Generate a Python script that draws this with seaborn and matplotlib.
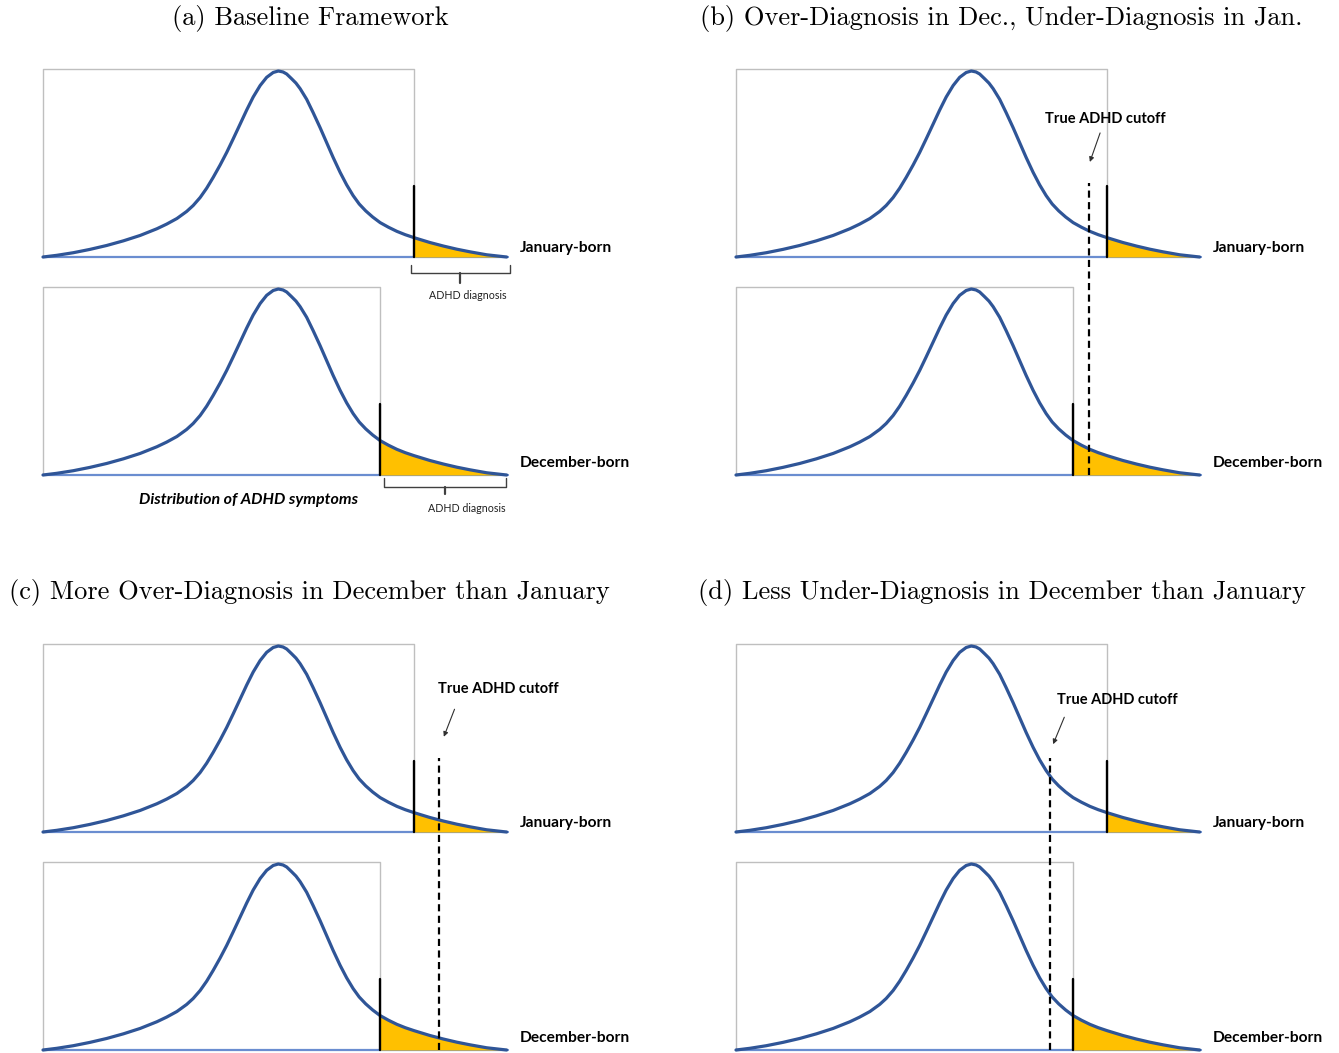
import numpy as np
import pandas as pd
import matplotlib
matplotlib.use("Agg")
import matplotlib.pyplot as plt
import seaborn as sns

# ---- data -------------------------------------------------------------
# Symptom score (0-100) and relative density of the symptom distribution
curve_x = [0.0, 2.95, 6.5, 10.1, 13.7, 17.3, 20.9, 24.5, 26.6, 28.8, 30.9,
           32.3, 33.8, 35.2, 36.6, 38.1, 39.5, 40.9, 42.4, 43.8, 45.2, 46.7,
           48.1, 49.5, 50.6, 51.6, 52.4, 53.4, 54.4, 55.3, 56.7, 58.1, 59.6,
           61.0, 62.4, 63.9, 65.3, 66.7, 68.0, 69.4, 70.9, 72.5, 74.3, 76.1,
           77.9, 79.8, 83.2, 86.1, 89.0, 91.8, 95.4, 99.7]
curve_h = [0.0, 0.009, 0.023, 0.041, 0.062, 0.087, 0.116, 0.152, 0.177, 0.207,
           0.245, 0.277, 0.320, 0.370, 0.428, 0.495, 0.562, 0.635, 0.715, 0.790,
           0.860, 0.922, 0.966, 0.992, 1.0, 0.995, 0.984, 0.960, 0.935, 0.905,
           0.848, 0.776, 0.695, 0.615, 0.535, 0.455, 0.388, 0.330, 0.285,
           0.248, 0.215, 0.185, 0.160, 0.138, 0.120, 0.104, 0.078, 0.059,
           0.042, 0.028, 0.012, 0.0]

panel_titles = ["(a) Baseline Framework",
                "(b) Over-Diagnosis in Dec., Under-Diagnosis in Jan.",
                "(c) More Over-Diagnosis in December than January",
                "(d) Less Under-Diagnosis in December than January"]
jan_cutoff = [79.8, 79.8, 79.8, 79.8]      # diagnostic threshold, January-born
dec_cutoff = [72.5, 72.5, 72.5, 72.5]      # diagnostic threshold, December-born
true_cutoff = [None, 75.9, 85.2, 67.5]     # true ADHD threshold
group_labels = ["January-born", "December-born"]

# ---- style --------------------------------------------------------------
sns.set_theme(style="white")
plt.rcParams["font.family"] = ["Lato", "DejaVu Sans"]
plt.rcParams["text.color"] = "black"

CURVE = "#2F5597"
BASE = "#6A8DD0"
FILL = "#FFC000"
BOX = "#BFBFBF"
TITLE_FONT = "cmr10"

W, H = 1339, 1053
fig = plt.figure(figsize=(W / 100, H / 100), dpi=100)

PX, PY = 4.65, 186.0          # pixels per x unit / per y unit
OFF = 1.172                   # vertical offset of the upper distribution
BOX_TOP = 1.011               # frame top above each baseline
CUT_H = 0.38                  # height of the diagnostic threshold marker
XL, YL = (-6, 128), (-0.35, 2.3)

origins = [(43, 475), (736, 475), (43, 1050), (736, 1050)]
title_pos = [(310, 18), (1001, 18), (309, 593), (1002, 593)]
cut_text = [None, (79.4, 1.914), (97.9, 1.939), (82.1, 1.882)]
cut_arrow = [None, ((78.3, 1.839), (76.1, 1.683)),
             ((88.5, 1.832), (86.2, 1.684)), ((70.6, 1.789), (68.2, 1.644))]

df = pd.DataFrame({"x": curve_x, "h": curve_h})


def draw_dist(ax, base, cut):
    # chart frame, baseline, shaded tail, density curve, threshold marker
    ax.plot([0, 0, cut, cut], [base, base + BOX_TOP, base + BOX_TOP, base],
            color=BOX, lw=1.0, zorder=1)
    ax.plot([0, 100], [base, base], color=BASE, lw=1.6, zorder=2)
    tail = df[df["x"] >= cut]
    ax.fill_between(tail["x"], base, tail["h"] + base, color=FILL,
                    lw=0, zorder=3)
    sns.lineplot(x=df["x"], y=df["h"] + base, ax=ax, color=CURVE, lw=2.3,
                 sort=False, estimator=None, zorder=4,
                 solid_joinstyle="round")
    ax.plot([cut, cut], [base, base + CUT_H], color="black", lw=1.7, zorder=5)


def bracket(ax, x0, x1, ytop, ybar, ybot):
    xm = (x0 + x1) / 2
    ax.plot([x0, x0, x1, x1], [ytop, ybar, ybar, ytop], color="#404040",
            lw=1.0, solid_joinstyle="round")
    ax.plot([xm, xm], [ybar, ybot], color="#404040", lw=1.6)


for i in range(4):
    ox, oy = origins[i]
    left = (ox + XL[0] * PX) / W
    width = (XL[1] - XL[0]) * PX / W
    bottom = 1 - (oy - YL[0] * PY) / H
    height = (YL[1] - YL[0]) * PY / H
    ax = fig.add_axes([left, bottom, width, height])
    ax.set_xlim(*XL)
    ax.set_ylim(*YL)
    ax.axis("off")

    draw_dist(ax, OFF, jan_cutoff[i])
    draw_dist(ax, 0.0, dec_cutoff[i])

    ax.text(102.6, OFF + 0.05, group_labels[0], fontsize=11.2,
            fontweight="bold", va="center", ha="left")
    ax.text(102.6, 0.065, group_labels[1], fontsize=11.2,
            fontweight="bold", va="center", ha="left")

    if true_cutoff[i] is not None:
        tc = true_cutoff[i]
        ax.plot([tc, tc], [0, OFF + 0.398], color="black", lw=1.6,
                linestyle=(0, (3.2, 2.0)), zorder=6)
        tx, ty = cut_text[i]
        ax.text(tx, ty, "True ADHD cutoff", fontsize=10.5, fontweight="bold",
                ha="center", va="center")
        (ax0, ay0), (ax1, ay1) = cut_arrow[i]
        ax.annotate("", xy=(ax1, ay1), xytext=(ax0, ay0),
                    arrowprops=dict(arrowstyle="-|>", color="#303030", lw=0.8,
                                    mutation_scale=7, shrinkA=0, shrinkB=0))
    else:
        bracket(ax, 79.1, 100.4, 1.129, 1.084, 1.034)
        ax.text(91.4, 0.964, "ADHD diagnosis", fontsize=7.7, ha="center",
                va="center", color="#202020")
        bracket(ax, 73.3, 99.6, -0.016, -0.066, -0.102)
        ax.text(91.1, -0.179, "ADHD diagnosis", fontsize=7.7, ha="center",
                va="center", color="#202020")
        ax.text(44.1, -0.134, "Distribution of ADHD symptoms", fontsize=11.5,
                fontweight="bold", fontstyle="italic", ha="center",
                va="center")

    tx, ty = title_pos[i]
    fig.text(tx / W, 1 - ty / H, panel_titles[i], fontsize=19,
             family=TITLE_FONT, ha="center", va="center")

fig.savefig("out.png", dpi=100, facecolor="white")
